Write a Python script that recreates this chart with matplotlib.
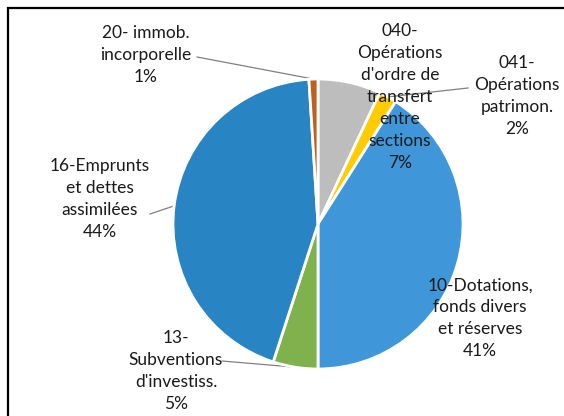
import numpy as np
import matplotlib
matplotlib.use("Agg")
import matplotlib.pyplot as plt
from matplotlib.patches import Rectangle

# slices, clockwise from 12 o'clock
labels = ["040-\nOpérations\nd'ordre de\ntransfert\nentre\nsections",
          "041-\nOpérations\npatrimon.",
          "10-Dotations,\nfonds divers\net réserves",
          "13-\nSubventions\nd'investiss.",
          "16-Emprunts\net dettes\nassimilées",
          "20- immob.\nincorporelle"]
shares = [7, 2, 41, 5, 44, 1]
colors = ["#bdbdbd", "#ffcc00", "#3f96d8", "#7fb24c", "#2884c2", "#c0601e"]

W, H = 564, 416
cx, cy, R = 318, 224, 145  # pie centre and radius, pixels


def to_data(px, py):
    return (px - cx) / R, (cy - py) / R


plt.rcParams['font.family'] = ['Lato', 'DejaVu Sans']
fig = plt.figure(figsize=(W / 100, H / 100), dpi=100, facecolor='white')
ax = fig.add_axes([(cx - R) / W, (H - cy - R) / H, 2 * R / W, 2 * R / H])
wedges, _ = ax.pie(shares, colors=colors, startangle=90, counterclock=False,
                   radius=1, wedgeprops=dict(edgecolor='white', linewidth=2))
ax.set_xlim(-1, 1)
ax.set_ylim(-1, 1)
ax.set_aspect('equal')
ax.axis('off')

# label block centres (pixels) and leader line text-side ends (None = no line)
text_pos = [(400, 97), (517, 96), (480, 318), (176, 371), (100, 199), (146, 55)]
leader_end = [None, (468, 88), None, (222, 361), (150, 214), (197, 57)]

for w, lab, s, tp, le in zip(wedges, labels, shares, text_pos, leader_end):
    tx, ty = to_data(*tp)
    ax.text(tx, ty, "%s\n%d%%" % (lab, s), ha='center', va='center',
            fontsize=12.5, color='#1a1a1a', linespacing=1.45, clip_on=False)
    if le is not None:
        ang = np.deg2rad((w.theta1 + w.theta2) / 2)
        ex, ey = to_data(*le)
        ax.plot([np.cos(ang), ex], [np.sin(ang), ey], color='#808080',
                lw=0.9, clip_on=False, zorder=0)

# scanned frame (only top and left edges visible)
fig.patches.append(Rectangle((8 / W, -0.1), 1.2, 1.1 - 8 / H, fill=False,
                             edgecolor='black', lw=1.6,
                             transform=fig.transFigure, figure=fig))

fig.savefig("out.png", dpi=100)
